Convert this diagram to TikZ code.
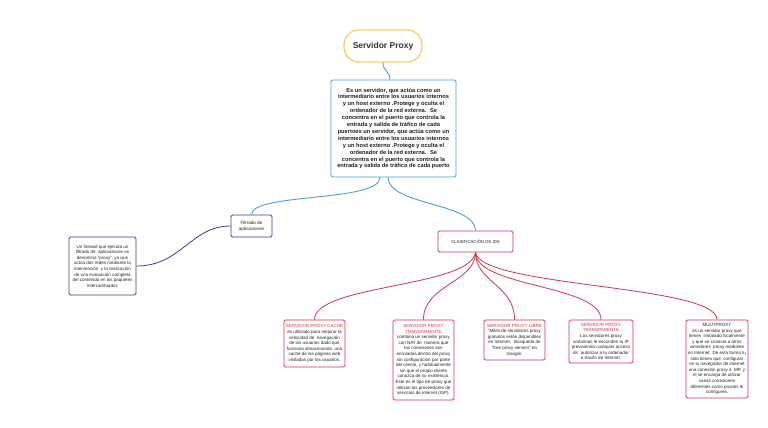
\documentclass[tikz,border=0pt]{standalone}
\usepackage{fontspec}
\setmainfont{Liberation Sans}
\definecolor{tblue}{HTML}{4A9FD6}
\definecolor{tyellow}{HTML}{F4D46A}
\definecolor{tred}{HTML}{D2354C}
\definecolor{tnavy}{HTML}{3E3C8E}
\definecolor{ttext}{HTML}{222222}
\tikzset{
  box/.style={draw, line width=0.8pt, inner sep=0pt, align=center, text=ttext, rounded corners=1.5pt},
  bluebox/.style={box, draw=tblue},
  navybox/.style={box, draw=tnavy},
  redbox/.style={box, draw=tred},
  blueline/.style={draw=tblue, line width=0.9pt},
  navyline/.style={draw=tnavy, line width=0.8pt},
  redline/.style={draw=tred, line width=0.8pt},
  small/.style={font=\fontsize{4.5}{5.6}\selectfont},
}
\newcommand{\rt}[1]{\textcolor{tred}{#1}}
\begin{document}
\begin{tikzpicture}[x=1pt,y=-1pt]
\useasboundingbox[fill=white] (0,0) rectangle (768,428);

\node[draw=tyellow, line width=1.4pt, rounded corners=15pt, minimum width=78pt, minimum height=32pt,
  font=\fontsize{8.5}{10}\bfseries, text=black!80] (title) at (383,46) {Servidor Proxy};

\node[bluebox, minimum width=125pt, minimum height=97pt, font=\fontsize{5.7}{6.9}\selectfont\bfseries] (main) at (393.5,128.5)
{Es un servidor, que actúa como un\\
intermediario entre los usuarios internos\\
y un host externo .Protege y oculta el\\
ordenador de la red externa.~ Se\\
concentra en el puerto que controla la\\
entrada y salida de tráfico de cada\\
puertoes un servidor, que actúa como un\\
intermediario entre los usuarios internos\\
y un host externo .Protege y oculta el\\
ordenador de la red externa.~ Se\\
concentra en el puerto que controla la\\
entrada y salida de tráfico de cada puerto};

\node[navybox, minimum width=41pt, minimum height=22pt, font=\fontsize{4.6}{6}\selectfont] (filter) at (251.5,226)
{Filtrado de\\ aplicaciones};

\node[navybox, minimum width=67pt, minimum height=58pt, small] (left) at (102.5,266)
{Un firewall que ejecuta un\\
filtrado de~ aplicaciones se\\
denomina "proxy", ya que\\
actúa dos redes mediante la\\
intervención~ y la realización\\
de una evaluación completa\\
del contenido en los paquetes\\
intercambiados};

\node[redbox, minimum width=75pt, minimum height=21pt, font=\fontsize{4.3}{5}\selectfont] (class) at (475.5,241.5)
{CLASIFICACIÓN DE IDS};

\node[redbox, minimum width=61pt, minimum height=47pt, small] (b1) at (314.5,343.5)
{\rt{SERVIDOR PROXY-CACHE}\\
es utilizado para mejorar la\\
velocidad de~ navegación\\
de los usuarios dado que\\
funciona almacenando~ una\\
caché de las páginas web\\
visitadas por los usuarios.};

\node[redbox, minimum width=61pt, minimum height=80pt, small] (b2) at (423.5,360)
{\rt{SERVIDOR PROXY}\\
\rt{TRANSPARENTE}\\
combina un servidor proxy\\
con NAT de~ manera que\\
las conexiones son\\
enrutadas dentro del proxy\\
sin configuración por parte\\
del cliente, y habitualmente\\
sin que el propio cliente\\
conozca de su existencia.\\
Este es el tipo de proxy que\\
utilizan los proveedores de\\
servicios de internet (ISP).};

\node[redbox, minimum width=61pt, minimum height=40pt, small] (b3) at (514.5,340)
{\rt{SERVIDOR PROXY LIBRE}\\
"Miles de servidores proxy\\
gratuitos están disponibles\\
en Internet.~ Búsqueda de\\
"free proxy servers" en\\
Google.};

\node[redbox, minimum width=64pt, minimum height=43pt, small] (b4) at (601,341.5)
{\rt{SERVIDOR PROXY}\\
\rt{TRANSPARENTE}\\
Los servidores proxy\\
anónimos le esconden tu IP\\
previniendo cualquier acceso\\
dir. autorizar a tu ordenador\\
a través de Internet.};

\node[redbox, minimum width=62pt, minimum height=78pt, small] (b5) at (717,359)
{MULTIPROXY\\
es un servidor proxy que\\
tienes~ instalado localmente\\
y que se conecta a otros\\
servidores~ proxy mediante\\
en Internet. De esta forma tu\\
solo tienes que~ configurar\\
en tu navegador de internet\\
una conexión proxy a~ MP, y\\
el se encarga de utilizar\\
varias conexiones\\
diferentes como proxies le\\
configures.};

% connectors
\draw[blueline] (title.south) .. controls +(0,9) and +(0,-9) .. ([xshift=-3.5pt]main.north);
\draw[blueline] ([xshift=-13.5pt]main.south) .. controls +(0,25) and +(0,-22) .. (filter.north);
\draw[blueline] ([xshift=-5.5pt]main.south) .. controls +(0,28) and +(0,-28) .. (class.north);
\draw[navyline] (filter.west) .. controls +(-40,0) and +(45,0) .. (left.east);
\draw[redline] (class.south) .. controls +(-5,35) and +(0,-35) .. (b1.north);
\draw[redline] (class.south) .. controls +(0,30) and +(0,-35) .. (b2.north);
\draw[redline] (class.south) .. controls +(0,30) and +(0,-35) .. (b3.north);
\draw[redline] (class.south) .. controls +(0,35) and +(0,-35) .. (b4.north);
\draw[redline] (class.south) .. controls +(5,35) and +(0,-35) .. (b5.north);
\end{tikzpicture}
\end{document}
